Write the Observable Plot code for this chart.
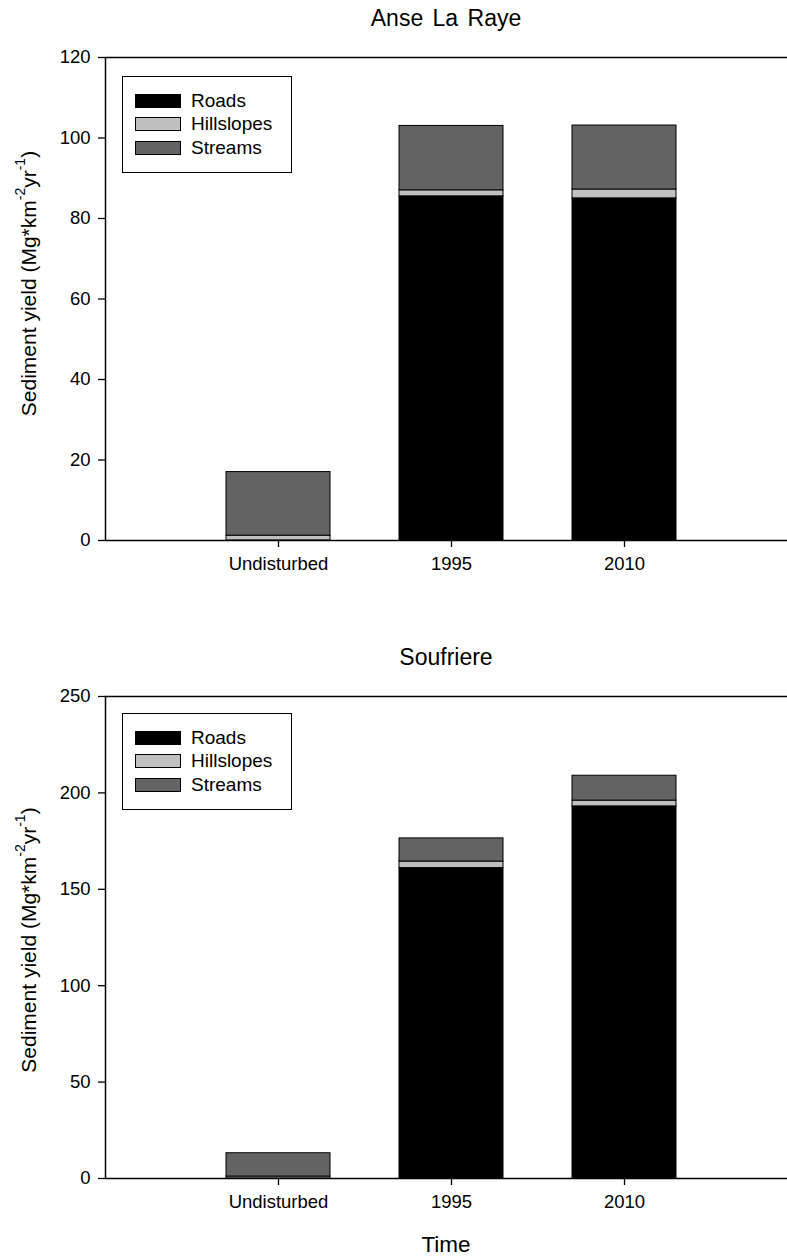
<!DOCTYPE html>
<html>
<head>
<meta charset="utf-8">
<script src="https://cdn.jsdelivr.net/npm/d3@7"></script>
<script src="https://cdn.jsdelivr.net/npm/@observablehq/plot@0.6"></script>
<style>
  html, body { margin: 0; padding: 0; background: #fff; overflow: hidden; width: 787px; height: 1259px; }
  body { position: relative; font-family: "Liberation Sans", Arial, sans-serif; color: #000; }
  .title { position: absolute; left: 105px; width: 682px; text-align: center; font-size: 23px; }
  .panel { position: absolute; left: 0; width: 787px; }
  .legend { position: absolute; left: 122px; width: 168px; height: 95px; border: 1.5px solid #000; background: #fff; }
  .row { position: absolute; left: 12px; height: 20px; font-size: 19px; line-height: 20px; }
  .sw { position: absolute; left: 0; top: 3px; width: 44px; height: 12px; border: 1px solid #000; }
  .lbl { position: absolute; left: 56px; top: 0; white-space: nowrap; }
  .xlabel { position: absolute; left: 105px; width: 682px; text-align: center; font-size: 22.5px; line-height: 26px; }
</style>
</head>
<body>
<script>
// ---- data ----
const categories = ["Undisturbed", "1995", "2010"];
const components = ["Roads", "Hillslopes", "Streams"];
const componentColors = ["#000000", "#c0c0c0", "#636363"];

const anseRoads   = [0,    85.5, 85.0];
const anseHills   = [1.2,  1.5,  2.2];
const anseStreams = [15.8, 16.0, 15.9];
const anseTicks   = [0, 20, 40, 60, 80, 100, 120];

const soufRoads   = [0,    161.0, 193.0];
const soufHills   = [1.0,  3.4,   3.0];
const soufStreams = [12.1, 12.0,  12.9];
const soufTicks   = [0, 50, 100, 150, 200, 250];

const titles = ["Anse La Raye", "Soufriere"];
const xLabel = "Time";

function rowsFrom(roads, hills, streams) {
  const out = [];
  categories.forEach((c, i) => {
    [roads[i], hills[i], streams[i]].forEach((v, j) => {
      if (v > 0) out.push({cat: c, comp: components[j], v});
    });
  });
  return out;
}

function makeChart({roads, hills, streams, ticks, marginTop, plotH, marginBottom, labelShift}) {
  const ymax = ticks[ticks.length - 1];
  const svg = Plot.plot({
    width: 787,
    height: marginTop + plotH + marginBottom,
    marginLeft: 105,
    marginRight: -10,
    marginTop,
    marginBottom,
    style: {fontFamily: '"Liberation Sans", Arial, sans-serif', fontSize: "18.5px", color: "#000", background: "transparent", overflow: "visible"},
    x: {domain: categories, paddingInner: 0.4, paddingOuter: 0.7, align: 0.5, label: null},
    y: {domain: [0, ymax], label: null},
    color: {domain: components, range: componentColors},
    marks: [
      Plot.barY(rowsFrom(roads, hills, streams), {x: "cat", y: "v", fill: "comp", stroke: "#000", strokeWidth: 1, order: components}),
      Plot.frame({stroke: "#000", strokeWidth: 1.5}),
      Plot.axisY({ticks, tickSize: 7, tickPadding: 8, fontSize: 18.5, strokeWidth: 1.3, label: null}),
      Plot.axisX({tickSize: 7, tickPadding: 9, fontSize: 18.5, strokeWidth: 1.3, label: null})
    ]
  });
  // rotated y-axis title with superscripts
  const ns = "http://www.w3.org/2000/svg";
  const t = document.createElementNS(ns, "text");
  const cy = marginTop + plotH / 2 + labelShift;
  t.setAttribute("transform", `translate(28,${cy}) rotate(-90)`);
  t.setAttribute("text-anchor", "middle");
  t.setAttribute("dominant-baseline", "central");
  t.setAttribute("font-size", "21px");
  t.setAttribute("fill", "#000");
  const parts = [["Sediment yield (Mg*km", false], ["-2", true], ["yr", false], ["-1", true], [")", false]];
  parts.forEach(([s, sup]) => {
    const sp = document.createElementNS(ns, "tspan");
    sp.textContent = s;
    if (sup) { sp.setAttribute("baseline-shift", "super"); sp.setAttribute("font-size", "14px"); }
    t.appendChild(sp);
  });
  svg.appendChild(t);
  return svg;
}

function addLegend(top) {
  const lg = document.createElement("div");
  lg.className = "legend";
  lg.style.top = top + "px";
  components.forEach((c, j) => {
    const r = document.createElement("div");
    r.className = "row";
    r.style.top = (14 + j * 23.3) + "px";
    const sw = document.createElement("div");
    sw.className = "sw";
    sw.style.background = componentColors[j];
    const lb = document.createElement("div");
    lb.className = "lbl";
    lb.textContent = c;
    r.appendChild(sw); r.appendChild(lb);
    lg.appendChild(r);
  });
  document.body.appendChild(lg);
}

function addTitle(text, top, wordSpacing) {
  const d = document.createElement("div");
  d.className = "title";
  d.style.top = top + "px";
  d.style.lineHeight = "36px";
  d.style.wordSpacing = wordSpacing + "px";
  d.textContent = text;
  document.body.appendChild(d);
}

// top panel
addTitle(titles[0], 0, 3);
const p1 = document.createElement("div");
p1.className = "panel"; p1.style.top = "40px";
p1.appendChild(makeChart({roads: anseRoads, hills: anseHills, streams: anseStreams, ticks: anseTicks,
  marginTop: 17, plotH: 483, marginBottom: 40, labelShift: -15}));
document.body.appendChild(p1);
addLegend(76);

// bottom panel
addTitle(titles[1], 639, 0);
const p2 = document.createElement("div");
p2.className = "panel"; p2.style.top = "680px";
p2.appendChild(makeChart({roads: soufRoads, hills: soufHills, streams: soufStreams, ticks: soufTicks,
  marginTop: 16, plotH: 482, marginBottom: 79, labelShift: 3}));
document.body.appendChild(p2);
addLegend(713);

const xl = document.createElement("div");
xl.className = "xlabel";
xl.style.top = "1232px";
xl.textContent = xLabel;
document.body.appendChild(xl);
</script>
</body>
</html>
